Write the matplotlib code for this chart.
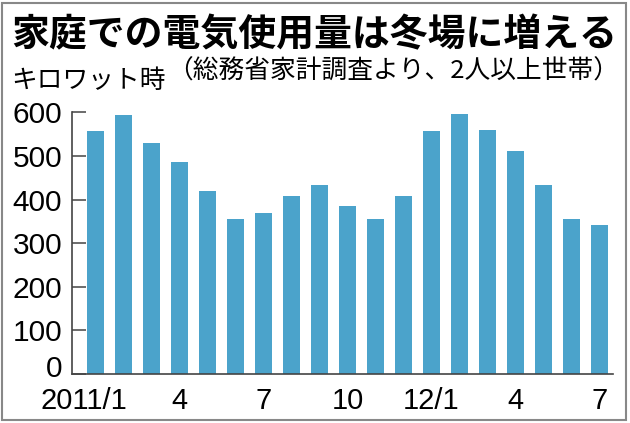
import matplotlib
matplotlib.use("Agg")
import matplotlib.pyplot as plt
from matplotlib.patches import Rectangle
from matplotlib.transforms import ScaledTranslation

# monthly household electricity use, kWh (2011/1 .. 2012/7)
months = list(range(19))
usage = [556, 593, 529, 486, 420, 356, 369, 408, 433, 385,
         356, 408, 558, 596, 560, 511, 433, 355, 342]
tick_pos = [0, 3, 6, 9, 12, 15, 18]
tick_labels = ["2011/1", "4", "7", "10", "12/1", "4", "7"]
y_ticks = [0, 100, 200, 300, 400, 500, 600]

title = "家庭での電気使用量は冬場に増える"
subtitle = "（総務省家計調査より、2人以上世帯）"
unit = "キロワット時"

CJK = ["Noto Sans CJK JP", "DejaVu Sans"]
NUM = ["Liberation Sans", "DejaVu Sans"]
BAR = "#4ba3cb"
AXIS = "#444444"

fig = plt.figure(figsize=(6.3, 4.23), dpi=100)
ax = fig.add_axes([72 / 630, 1 - 374 / 423, (613 - 72) / 630, (374 - 112.3) / 423])

ax.bar(months, usage, width=0.58, color=BAR, edgecolor="none")

ax.set_xlim(-0.84, 18.48)
ax.set_ylim(0, 600)
for side in ("top", "right"):
    ax.spines[side].set_visible(False)
for side in ("left", "bottom"):
    ax.spines[side].set_color(AXIS)
    ax.spines[side].set_linewidth(1.2)

ax.set_yticks(y_ticks)
ax.set_yticklabels([str(v) for v in y_ticks], family=NUM, fontsize=21.5)
ax.tick_params(axis="y", direction="in", length=10, width=1.1, color=AXIS, pad=7)
# the "0" is lifted a little above the baseline in the original
zero = ax.get_yticklabels()[0]
zero.set_transform(zero.get_transform() + ScaledTranslation(0, 0.08, fig.dpi_scale_trans))

ax.set_xticks(tick_pos)
ax.set_xticklabels(tick_labels, family=NUM, fontsize=21)
ax.tick_params(axis="x", length=0, pad=9)
# the first label sits a bit left of its bar in the original
first = ax.get_xticklabels()[0]
first.set_transform(first.get_transform() + ScaledTranslation(-0.12, 0, fig.dpi_scale_trans))

fig.text(11 / 630, 1 - 35 / 423, title, family=CJK, fontsize=27.3, fontweight="bold",
         ha="left", va="center")
fig.text(619 / 630, 1 - 72 / 423, subtitle, family=CJK, fontsize=18.5,
         ha="right", va="center")
fig.text(11 / 630, 1 - 81 / 423, unit, family=CJK, fontsize=18.5,
         ha="left", va="center")

fig.patches.append(Rectangle((2 / 630, 3 / 423), 624 / 630, 417 / 423,
                             transform=fig.transFigure, fill=False,
                             edgecolor="#888888", linewidth=1.5))

fig.savefig("out.png", dpi=100)
